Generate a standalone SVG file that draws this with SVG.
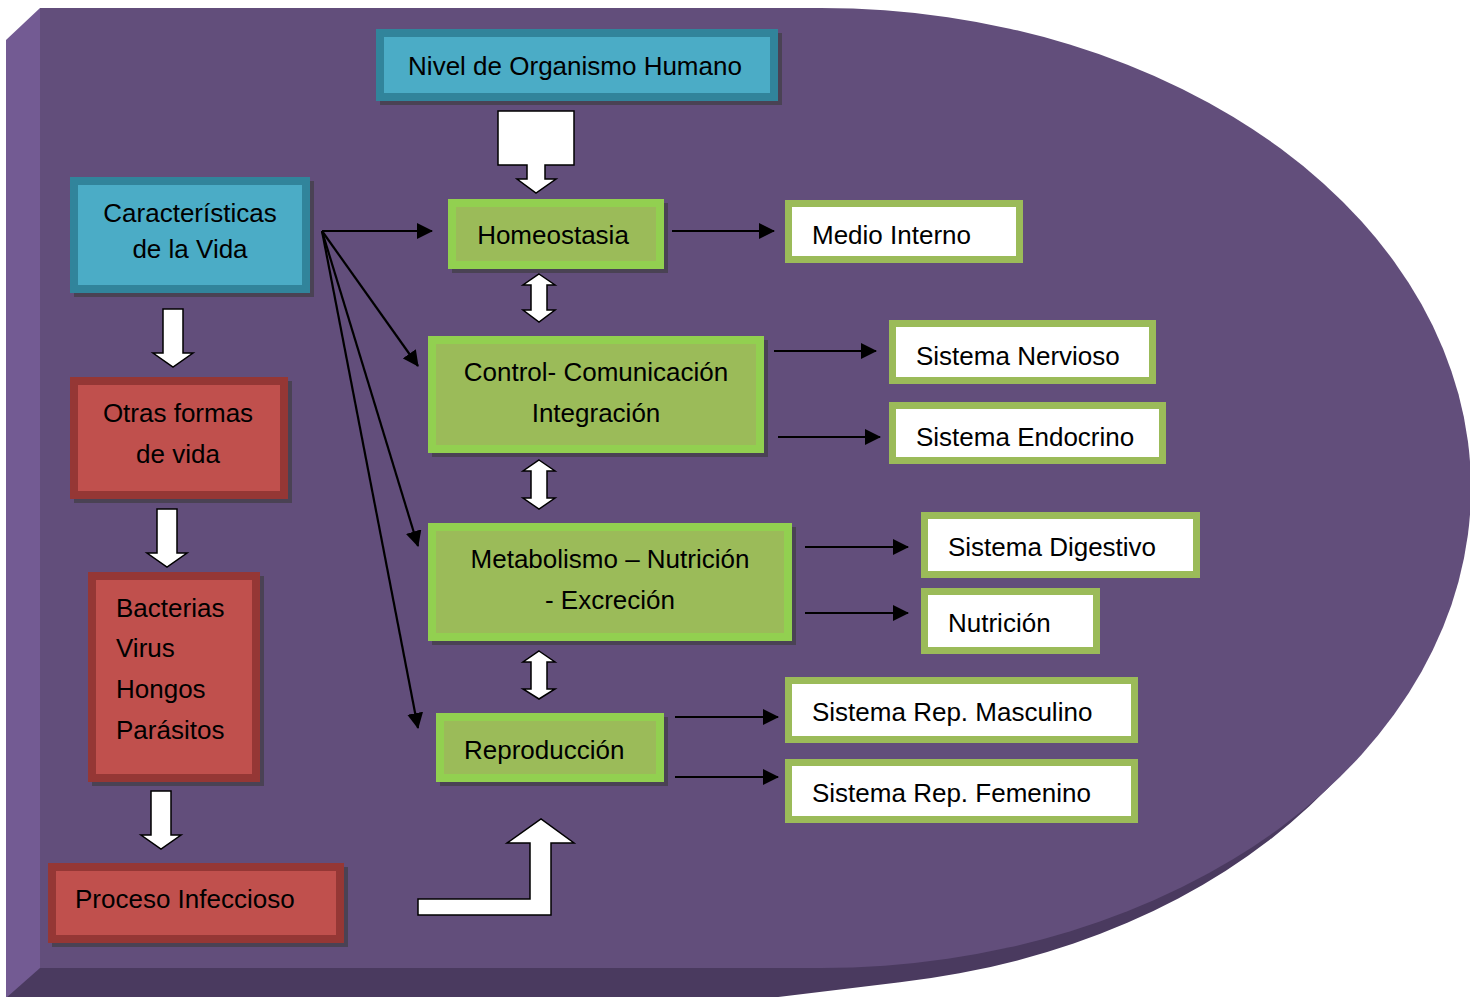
<svg xmlns="http://www.w3.org/2000/svg" width="1470" height="997" viewBox="0 0 1470 997">
<defs>
<style>
text{font-family:"Liberation Sans",Arial,sans-serif;font-size:26px;fill:#000}
.c{text-anchor:middle}
.teal{fill:#4bacc6;stroke:#31849b;stroke-width:8}
.green{fill:#9bbb59;stroke:#92d050;stroke-width:8}
.red{fill:#c0504d;stroke:#953735;stroke-width:8}
.white{fill:#fff;stroke:#9bbb59;stroke-width:7}
.sh{fill:#3a3a3a;opacity:.6}
.blk{fill:#fff;stroke:#000;stroke-width:1.5;stroke-linejoin:miter}
.ln{stroke:#000;stroke-width:2.2;fill:none;marker-end:url(#ah)}
</style>
<marker id="ah" viewBox="0 0 16 16" refX="15" refY="8" markerWidth="16" markerHeight="16" markerUnits="userSpaceOnUse" orient="auto">
<path d="M0,0 L16,8 L0,16 Z" fill="#000"/>
</marker>
</defs>

<g id="background">
<path d="M6,40 L801,28 A650,480 0 0 1 900,982.3 L770,998 L6,998 Z" fill="#4a3a5f"/>
<polygon points="40,8 6,40 6,998 40,968" fill="#735b93"/>
<path d="M40,8 L821,8 A650,480 0 0 1 821,968 L40,968 Z" fill="#624e7b"/>
</g>

<g id="connectors">
<line class="ln" x1="322" y1="231" x2="432" y2="231"/>
<line class="ln" x1="322" y1="231" x2="418" y2="366"/>
<line class="ln" x1="322" y1="231" x2="418" y2="546"/>
<line class="ln" x1="322" y1="231" x2="418" y2="728"/>
<line class="ln" x1="672" y1="231" x2="774" y2="231"/>
<line class="ln" x1="774" y1="351" x2="876" y2="351"/>
<line class="ln" x1="778" y1="437" x2="880" y2="437"/>
<line class="ln" x1="805" y1="547" x2="908" y2="547"/>
<line class="ln" x1="805" y1="613" x2="908" y2="613"/>
<line class="ln" x1="675" y1="717" x2="778" y2="717"/>
<line class="ln" x1="675" y1="777" x2="778" y2="777"/>
<path class="blk" d="M498,111 H574 V165 H545 V179 H556 L536,193 L517,179 H527 V165 H498 Z"/>
<path class="blk" d="M539,274 L555,285 L547,285 L547,310 L555,310 L539,322 L523,310 L531,310 L531,285 L523,285 Z"/>
<path class="blk" d="M539,460 L555,471 L547,471 L547,498 L555,498 L539,509 L523,498 L531,498 L531,471 L523,471 Z"/>
<path class="blk" d="M539,651 L555,662 L547,662 L547,689 L555,689 L539,699 L523,689 L531,689 L531,662 L523,662 Z"/>
<path class="blk" d="M163,309 H183 V353 H193 L173,367 L153,353 H163 Z"/>
<path class="blk" d="M157,509 H177 V553 H187 L167,567 L147,553 H157 Z"/>
<path class="blk" d="M151,791 H171 V835 H181 L161,849 L141,835 H151 Z"/>
<path class="blk" d="M418,899 H530 V843 H507 L541,819 L574,843 H551 V915 H418 Z"/>
</g>

<g id="nivel">
<rect class="sh" x="380" y="33" width="402" height="72"/>
<rect class="teal" x="380" y="33" width="394" height="64"/>
<text class="c" x="575" y="75">Nivel de Organismo Humano</text>
</g>

<g id="caracteristicas">
<rect class="sh" x="74" y="181" width="240" height="116"/>
<rect class="teal" x="74" y="181" width="232" height="108"/>
<text class="c" x="190" y="222">Características</text>
<text class="c" x="190" y="258">de la Vida</text>
</g>

<g id="homeostasia">
<rect class="sh" x="452" y="203" width="216" height="70"/>
<rect class="green" x="452" y="203" width="208" height="62"/>
<text class="c" x="553" y="244">Homeostasia</text>
</g>

<g id="control">
<rect class="sh" x="432" y="340" width="336" height="117"/>
<rect class="green" x="432" y="340" width="328" height="109"/>
<text class="c" x="596" y="381">Control- Comunicación</text>
<text class="c" x="596" y="422">Integración</text>
</g>

<g id="metabolismo">
<rect class="sh" x="432" y="527" width="364" height="118"/>
<rect class="green" x="432" y="527" width="356" height="110"/>
<text class="c" x="610" y="568">Metabolismo – Nutrición</text>
<text class="c" x="610" y="609">- Excreción</text>
</g>

<g id="reproduccion">
<rect class="sh" x="440" y="717" width="228" height="69"/>
<rect class="green" x="440" y="717" width="220" height="61"/>
<text x="464" y="759">Reproducción</text>
</g>

<g id="otras">
<rect class="sh" x="74" y="381" width="218" height="122"/>
<rect class="red" x="74" y="381" width="210" height="114"/>
<text class="c" x="178" y="422">Otras formas</text>
<text class="c" x="178" y="463">de vida</text>
</g>

<g id="bacterias">
<rect class="sh" x="92" y="576" width="172" height="210"/>
<rect class="red" x="92" y="576" width="164" height="202"/>
<text x="116" y="617">Bacterias</text>
<text x="116" y="657">Virus</text>
<text x="116" y="698">Hongos</text>
<text x="116" y="739">Parásitos</text>
</g>

<g id="proceso">
<rect class="sh" x="52" y="867" width="296" height="80"/>
<rect class="red" x="52" y="867" width="288" height="72"/>
<text x="75" y="908">Proceso Infeccioso</text>
</g>

<g id="medio">
<rect class="white" x="788.5" y="203.5" width="231" height="56"/>
<text x="812" y="244">Medio Interno</text>
</g>

<g id="nervioso">
<rect class="white" x="892.5" y="323.5" width="260" height="57"/>
<text x="916" y="365">Sistema Nervioso</text>
</g>

<g id="endocrino">
<rect class="white" x="892.5" y="405.5" width="270" height="55"/>
<text x="916" y="446">Sistema Endocrino</text>
</g>

<g id="digestivo">
<rect class="white" x="924.5" y="515.5" width="272" height="59"/>
<text x="948" y="556">Sistema Digestivo</text>
</g>

<g id="nutricion">
<rect class="white" x="924.5" y="591.5" width="172" height="59"/>
<text x="948" y="632">Nutrición</text>
</g>

<g id="masculino">
<rect class="white" x="788.5" y="680.5" width="346" height="59"/>
<text x="812" y="721">Sistema Rep. Masculino</text>
</g>

<g id="femenino">
<rect class="white" x="788.5" y="762.5" width="346" height="57"/>
<text x="812" y="802">Sistema Rep. Femenino</text>
</g>
</svg>
